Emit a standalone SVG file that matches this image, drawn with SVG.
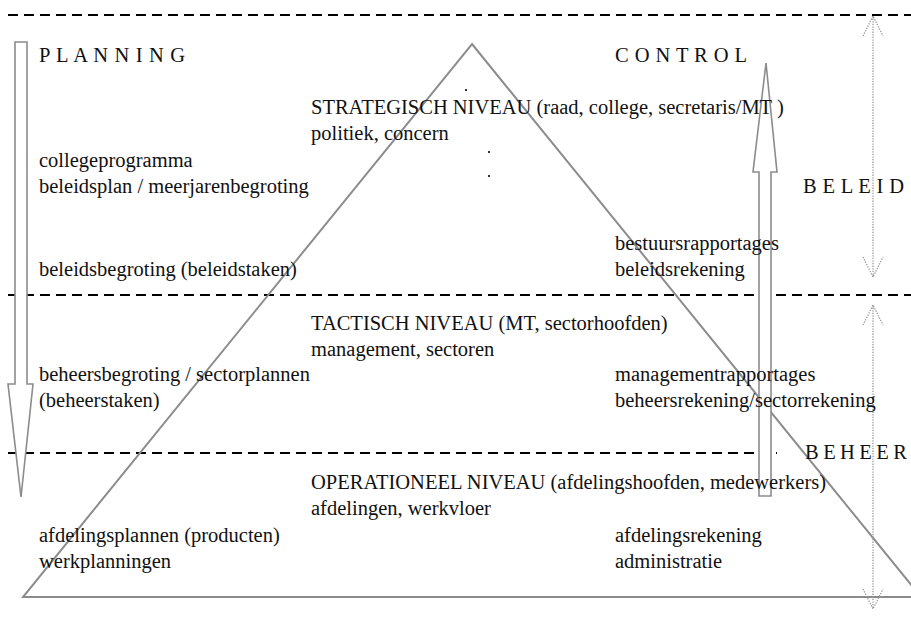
<svg xmlns="http://www.w3.org/2000/svg" width="911" height="618" viewBox="0 0 911 618">
<style>
text{font-family:"Liberation Serif","Times New Roman",serif;font-size:20.5px;fill:#111}
.dash{stroke:#000;stroke-width:2;stroke-dasharray:10 6;fill:none}
.gray{stroke:#8c8c8c;stroke-width:2;fill:none}
.arr{stroke:#8c8c8c;stroke-width:1.6;fill:#fff}
.dot{stroke:#999;stroke-width:1.3;stroke-dasharray:1.3 1.3;fill:none}
</style>
<rect width="911" height="618" fill="#fff"/>
<g id="levels">
<line class="dash" x1="8" y1="15" x2="911" y2="15"/>
<line class="dash" x1="8" y1="295" x2="911" y2="295"/>
<line class="dash" x1="8" y1="453" x2="777" y2="453"/>
</g>
<g id="pyramid">
<polygon class="gray" points="472,44 921,597 23,597"/>
<circle cx="466" cy="90" r="1.1" fill="#000"/>
<circle cx="489" cy="152" r="1.1" fill="#000"/>
<circle cx="489" cy="176" r="1.1" fill="#000"/>
</g>
<g id="connectors">
<polygon id="planning-arrow" class="arr" points="15,42 27,42 27,384 33,384 21,497 8,384 15,384"/>
<polygon id="control-arrow" class="arr" points="759,496 771,496 771,172 777,172 766,63 753,172 759,172"/>
<g id="beleid-arrow" class="dot">
<line x1="873" y1="16" x2="873" y2="277"/>
<polyline points="863,36 873,16 883,36"/>
<polyline points="863,257 873,277 883,257"/>
</g>
<g id="beheer-arrow" class="dot">
<line x1="873" y1="305" x2="873" y2="609"/>
<polyline points="863,325 873,305 883,325"/>
<polyline points="863,589 873,609 883,589"/>
</g>
</g>
<g id="labels">
<text x="39" y="62" textLength="146" lengthAdjust="spacing">P L A N N I N G</text>
<text x="615" y="62" textLength="132" lengthAdjust="spacing">C O N T R O L</text>
<text x="803" y="193" textLength="101" lengthAdjust="spacing">B E L E I D</text>
<text x="805" y="459" textLength="102" lengthAdjust="spacing">B E H E E R</text>
</g>
<g id="strategisch">
<text x="311" y="114">STRATEGISCH NIVEAU (raad, college, secretaris/MT )</text>
<text x="311" y="140">politiek, concern</text>
</g>
<g id="planning-beleid">
<text x="39" y="167">collegeprogramma</text>
<text x="39" y="193">beleidsplan / meerjarenbegroting</text>
<text x="39" y="276">beleidsbegroting (beleidstaken)</text>
</g>
<g id="control-beleid">
<text x="615" y="250">bestuursrapportages</text>
<text x="615" y="276">beleidsrekening</text>
</g>
<g id="tactisch">
<text x="311" y="330">TACTISCH NIVEAU (MT, sectorhoofden)</text>
<text x="311" y="356">management, sectoren</text>
</g>
<g id="planning-beheer">
<text x="39" y="381">beheersbegroting / sectorplannen</text>
<text x="39" y="407">(beheerstaken)</text>
</g>
<g id="control-beheer">
<text x="615" y="381">managementrapportages</text>
<text x="615" y="407">beheersrekening/sectorrekening</text>
</g>
<g id="operationeel">
<text x="311" y="489">OPERATIONEEL NIVEAU (afdelingshoofden, medewerkers)</text>
<text x="311" y="515">afdelingen, werkvloer</text>
</g>
<g id="planning-operationeel">
<text x="39" y="542">afdelingsplannen (producten)</text>
<text x="39" y="568">werkplanningen</text>
</g>
<g id="control-operationeel">
<text x="615" y="542">afdelingsrekening</text>
<text x="615" y="568">administratie</text>
</g>
</svg>
